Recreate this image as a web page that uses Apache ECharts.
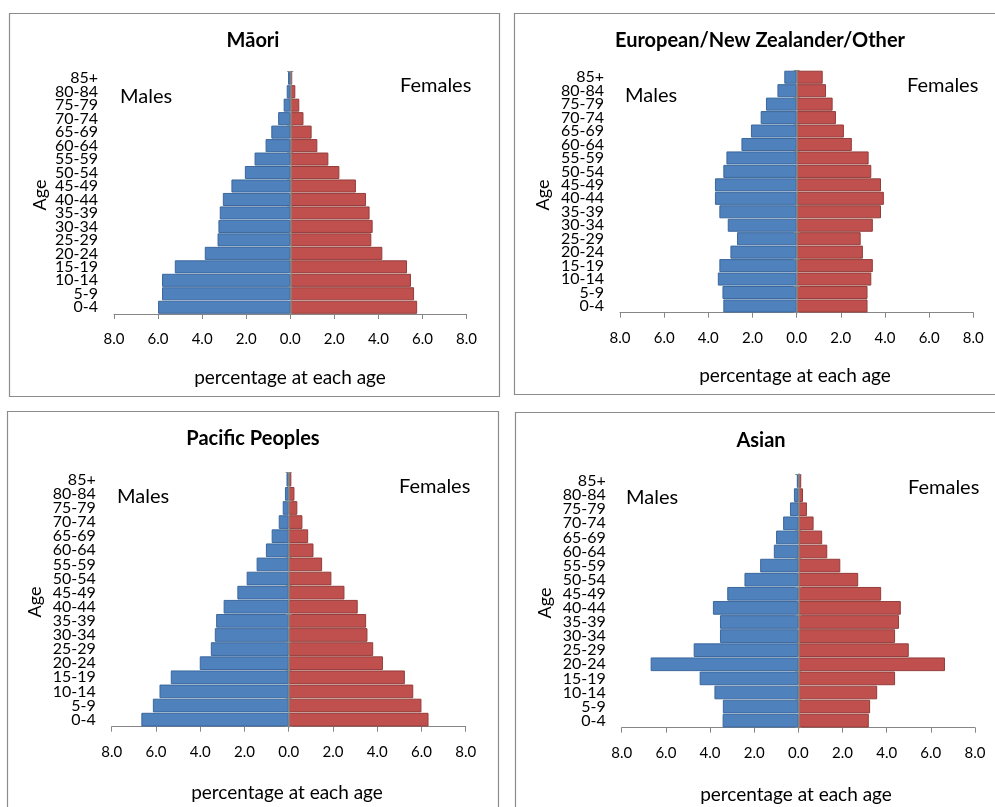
<!DOCTYPE html>
<html><head><meta charset="utf-8">
<script src="https://cdn.jsdelivr.net/npm/echarts@6/dist/echarts.min.js"></script>
<style>html,body{margin:0;padding:0;background:#fff}#c{width:995px;height:807px}</style>
</head><body><div id="c"></div>
<script>
// ---- data (bottom age group first) ----
const ages = ['0-4','5-9','10-14','15-19','20-24','25-29','30-34','35-39','40-44','45-49','50-54','55-59','60-64','65-69','70-74','75-79','80-84','85+'];
const titles = ['Māori','European/New Zealander/Other','Pacific Peoples','Asian'];
const maoriMale     = [6.00,5.82,5.82,5.24,3.88,3.30,3.26,3.20,3.06,2.67,2.06,1.62,1.12,0.86,0.55,0.30,0.16,0.10];
const maoriFemale   = [5.76,5.62,5.48,5.30,4.18,3.68,3.74,3.60,3.44,2.98,2.23,1.73,1.23,0.97,0.60,0.41,0.23,0.09];
const europeanMale  = [3.32,3.36,3.57,3.50,3.00,2.70,3.12,3.50,3.70,3.70,3.32,3.18,2.50,2.07,1.63,1.39,0.87,0.56];
const europeanFemale= [3.21,3.21,3.38,3.45,3.00,2.90,3.45,3.82,3.95,3.82,3.38,3.26,2.50,2.14,1.78,1.63,1.33,1.18];
const pacificMale   = [6.66,6.14,5.84,5.33,4.02,3.52,3.34,3.28,2.94,2.32,1.90,1.45,1.03,0.77,0.45,0.27,0.17,0.10];
const pacificFemale = [6.32,6.00,5.63,5.25,4.26,3.82,3.56,3.50,3.12,2.52,1.93,1.51,1.12,0.88,0.62,0.39,0.26,0.12];
const asianMale     = [3.43,3.42,3.80,4.47,6.69,4.74,3.55,3.55,3.87,3.22,2.44,1.73,1.11,1.01,0.69,0.38,0.20,0.07];
const asianFemale   = [3.19,3.25,3.57,4.38,6.64,5.00,4.38,4.56,4.64,3.75,2.71,1.90,1.31,1.08,0.69,0.39,0.21,0.13];
const xMin = -8, xMax = 8, xInterval = 2;
const maleLabel = 'Males', femaleLabel = 'Females', yName = 'Age', xName = 'percentage at each age';

// ---- layout (positions only) ----
const FONT = 'Lato';
const layout = [
  {grid:{left:114,top:71.5,width:352.5,height:242.5}, box:[9.5,13.5,490,383], title:[253,41], males:[120,97], females:[400,86], age:[40,195], xname:[290,378]},
  {grid:{left:620,top:70.5,width:353.3,height:242.2}, box:[514.5,13.5,495,381], title:[760,41], males:[625,96], females:[907,86], age:[543,195], xname:[795,376]},
  {grid:{left:111.7,top:472.7,width:354,height:254}, box:[7.5,411.5,491,420], title:[253,439], males:[117,497], females:[399,487], age:[35,602], xname:[287,793]},
  {grid:{left:621.7,top:474,width:353.3,height:253.7}, box:[515.5,412.5,495,420], title:[761,441], males:[626,498], females:[908,488], age:[545,603], xname:[796,795]}
];
const males = [maoriMale, europeanMale, pacificMale, asianMale];
const females = [maoriFemale, europeanFemale, pacificFemale, asianFemale];

const AX = '#868686';
const grids = [], xAxes = [], yAxes = [], series = [], graphic = [];
layout.forEach((L, i) => {
  grids.push(Object.assign({containLabel:false}, L.grid));
  xAxes.push({
    type:'value', gridIndex:i, min:xMin, max:xMax, interval:xInterval,
    axisLine:{show:true, onZero:false, lineStyle:{color:AX, width:1}},
    axisTick:{show:true, length:5, lineStyle:{color:AX}},
    splitLine:{show:false},
    axisLabel:{formatter:v => Math.abs(v).toFixed(1), fontFamily:FONT, fontSize:15, color:'#000', margin:18}
  });
  const base = yAxes.length;
  // label axis
  yAxes.push({type:'category', gridIndex:i, data:ages, position:'left',
    axisLine:{show:false, onZero:false}, axisTick:{show:false},
    axisLabel:{interval:0, fontFamily:FONT, fontSize:16, color:'#000', margin:16, lineHeight:13}});
  // zero axis with outward ticks
  yAxes.push({type:'category', gridIndex:i, data:ages, position:'left', z:5,
    axisLine:{show:true, onZero:true, lineStyle:{color:AX, width:1.5}},
    axisTick:{show:true, length:3, lineStyle:{color:AX}},
    axisLabel:{show:false}});
  // zero axis with inward ticks (centre of symmetric range)
  yAxes.push({type:'category', gridIndex:i, data:ages, position:'left', z:5,
    offset:-L.grid.width/2,
    axisLine:{show:false, onZero:false},
    axisTick:{show:true, inside:true, length:3, lineStyle:{color:AX}},
    axisLabel:{show:false}});
  series.push({type:'bar', name:maleLabel, xAxisIndex:i, yAxisIndex:base, data:males[i].map(v => -v),
    barGap:'-100%', barCategoryGap:'3%',
    itemStyle:{color:'#4f81bd', borderColor:'#3a679c', borderWidth:1}});
  series.push({type:'bar', name:femaleLabel, xAxisIndex:i, yAxisIndex:base, data:females[i],
    barGap:'-100%', barCategoryGap:'3%',
    itemStyle:{color:'#c0504d', borderColor:'#933d3b', borderWidth:1}});

  graphic.push({type:'rect', shape:{x:L.box[0], y:L.box[1], width:L.box[2], height:L.box[3]},
    style:{fill:'none', stroke:'#8c8c8c', lineWidth:1.2}, z:0, silent:true});
  graphic.push({type:'text', x:L.title[0], y:L.title[1],
    style:{text:titles[i], fontFamily:FONT, fontWeight:'bold', fontSize:20, fill:'#000', align:'center', verticalAlign:'middle'}});
  graphic.push({type:'text', x:L.males[0], y:L.males[1],
    style:{text:maleLabel, fontFamily:FONT, fontSize:20, fill:'#000', align:'left', verticalAlign:'middle'}});
  graphic.push({type:'text', x:L.females[0], y:L.females[1],
    style:{text:femaleLabel, fontFamily:FONT, fontSize:20, fill:'#000', align:'left', verticalAlign:'middle'}});
  graphic.push({type:'text', x:L.age[0], y:L.age[1], rotation:Math.PI/2,
    style:{text:yName, fontFamily:FONT, fontSize:18, fill:'#000', align:'center', verticalAlign:'middle'}});
  graphic.push({type:'text', x:L.xname[0], y:L.xname[1],
    style:{text:xName, fontFamily:FONT, fontSize:19, fill:'#000', align:'center', verticalAlign:'middle'}});
});

const chart = echarts.init(document.getElementById('c'), null, {renderer:'canvas'});
chart.setOption({
  animation:false,
  backgroundColor:'#fff',
  grid:grids, xAxis:xAxes, yAxis:yAxes, series:series, graphic:graphic
});
</script></body></html>
